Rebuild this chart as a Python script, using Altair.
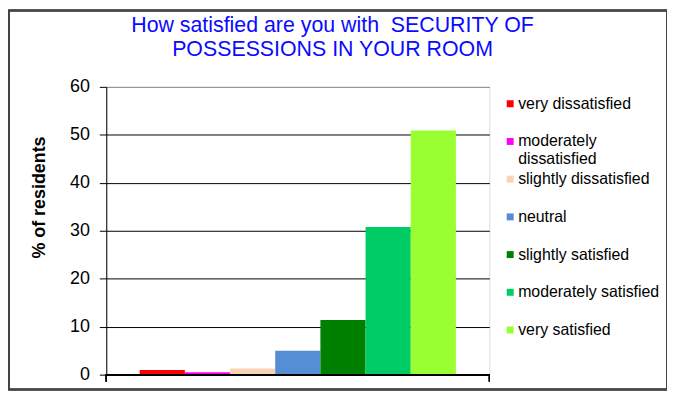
import altair as alt
import pandas as pd

categories = [
    "very dissatisfied",
    "moderately dissatisfied",
    "slightly dissatisfied",
    "neutral",
    "slightly satisfied",
    "moderately satisfied",
    "very satisfied",
]
values = [1.0, 0.5, 1.3, 5.0, 11.4, 30.8, 50.9]
colors = ["#FF0000", "#FF00FF", "#F9D4B4", "#558ED5", "#008000", "#00CC66", "#99FF33"]
y_ticks = [0, 10, 20, 30, 40, 50, 60]

df = pd.DataFrame({"category": categories, "value": values})

W, H = 386, 290

label_expr = (
    "datum.label == 'moderately dissatisfied' ? ['moderately', 'dissatisfied'] "
    ": [datum.label, '']"
)

bars = alt.Chart(df).mark_bar(stroke=None).encode(
    x=alt.X(
        "category:N",
        sort=categories,
        scale=alt.Scale(paddingInner=0, paddingOuter=0.74),
        axis=None,
    ),
    y=alt.Y(
        "value:Q",
        scale=alt.Scale(domain=[0, 60], nice=False),
        axis=alt.Axis(
            values=y_ticks,
            title="% of residents",
            titleFont="Liberation Sans",
            titleFontSize=18,
            titleFontWeight="bold",
            titleColor="#000000",
            titleAngle=270,
            titleAlign="center",
            titleBaseline="alphabetic",
            titleX=-62,
            titleY=111,
            labelFont="Liberation Sans",
            labelFontSize=18,
            labelColor="#000000",
            labelPadding=10,
            tickSize=7,
            tickColor="#000000",
            domainColor="#000000",
            gridColor={
                "condition": {"test": "datum.value == 60", "value": "#888888"},
                "value": "#000000",
            },
            gridWidth=1,
            grid=True,
        ),
    ),
    color=alt.Color(
        "category:N",
        sort=categories,
        scale=alt.Scale(domain=categories, range=colors),
        legend=alt.Legend(
            title=None,
            orient="none",
            legendX=399,
            legendY=9,
            symbolType="square",
            symbolSize=49,
            symbolStrokeWidth=0,
            labelFont="Liberation Sans",
            labelFontSize=16,
            labelColor="#000000",
            labelOffset=0,
            labelLimit=200,
            rowPadding=4,
            labelExpr=label_expr,
            labelBaseline="middle",
            padding=0,
        ),
    ),
)

# x axis baseline (bottom domain) and end ticks
base_line = alt.Chart(df).mark_rule(color="#000000", strokeWidth=1.5).encode(
    x=alt.value(-1), x2=alt.value(W), y=alt.value(H)
)
end_tick_l = alt.Chart(df).mark_rule(color="#000000", strokeWidth=1).encode(
    x=alt.value(0), y=alt.value(H), y2=alt.value(H + 7)
)
end_tick_r = alt.Chart(df).mark_rule(color="#000000", strokeWidth=1).encode(
    x=alt.value(W), y=alt.value(H), y2=alt.value(H + 7)
)

frame = alt.Chart(df).mark_rect(
    fill=None, stroke="#444444", strokeWidth=1.5
).encode(
    x=alt.value(-98), x2=alt.value(565), y=alt.value(-77), y2=alt.value(305)
)

chart = alt.layer(frame, bars, base_line, end_tick_l, end_tick_r).properties(
    width=W,
    height=H,
    padding={"left": 99, "top": 78, "right": 179, "bottom": 16},
    autosize=alt.AutoSizeParams(type="none"),
    title=alt.TitleParams(
        text=["How satisfied are you with\u00a0 SECURITY OF", "POSSESSIONS IN YOUR ROOM"],
        font="Liberation Sans",
        fontSize=21.5,
        fontWeight="normal",
        color="#0A0AFF",
        anchor="middle",
        baseline="bottom",
        dx=35,
        dy=77,
        lineHeight=24,
    ),
).configure_view(
    stroke="#888888", strokeWidth=2
).configure(background="white")

chart.save("out.html", embed_options={"renderer": "svg", "actions": False})
